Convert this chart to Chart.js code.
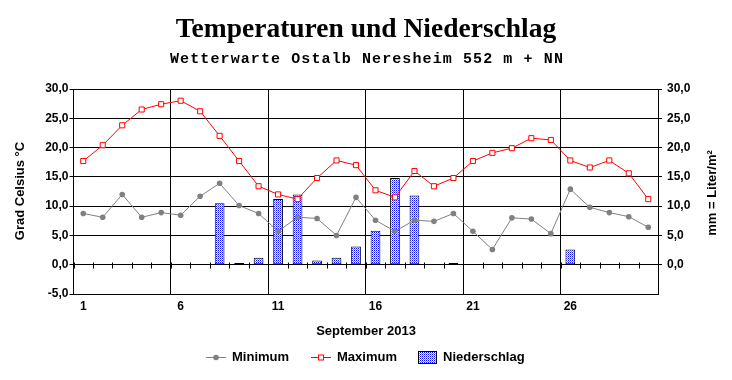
<!DOCTYPE html>
<html><head><meta charset="utf-8">
<script src="https://cdn.jsdelivr.net/npm/chart.js@4"></script>
<style>html,body{margin:0;padding:0;background:#fff;} #wrap{width:732px;height:380px;position:relative}</style>
</head><body><div id="wrap"><canvas id="c" width="732" height="380"></canvas></div>
<script>
const days = ['1','2','3','4','5','6','7','8','9','10','11','12','13','14','15','16','17','18','19','20','21','22','23','24','25','26','27','28','29','30'];
const minimum = [8.75, 8.1, 12.0, 8.1, 8.9, 8.45, 11.7, 13.9, 10.1, 8.75, 5.7, 8.1, 7.9, 5.0, 11.5, 7.6, 5.7, 7.6, 7.4, 8.75, 5.7, 2.6, 8.0, 7.8, 5.3, 12.9, 9.8, 8.9, 8.2, 6.4];
const maximum = [17.7, 20.4, 23.8, 26.5, 27.4, 28.0, 26.2, 22.0, 17.7, 13.4, 12.0, 11.2, 14.8, 17.8, 17.0, 12.7, 11.5, 16.0, 13.4, 14.8, 17.7, 19.1, 19.9, 21.6, 21.3, 17.8, 16.6, 17.8, 15.6, 11.2];
const niederschlag = [null, null, null, null, null, null, null, 10.5, 0.3, 1.2, 11.2, 12.0, 0.7, 1.2, 3.1, 5.8, 14.8, 11.8, null, 0.3, null, null, null, null, null, 2.6, null, null, null, null];
const seriesNames = ['Minimum', 'Maximum', 'Niederschlag'];
const titleText = 'Temperaturen und Niederschlag';
const subtitleText = 'Wetterwarte Ostalb Neresheim 552 m + NN';
const xTitle = 'September 2013';
const yTitle = 'Grad Celsius °C';
const y1Title = 'mm = Liter/m²';

const canvas = document.getElementById('c');
const ctx = canvas.getContext('2d');

const pc = document.createElement('canvas');
pc.width = 2; pc.height = 2;
const pctx = pc.getContext('2d');
pctx.fillStyle = '#ffffff'; pctx.fillRect(0, 0, 2, 2);
pctx.fillStyle = '#0000ff'; pctx.fillRect(0, 0, 1, 1);
pctx.fillStyle = '#8080ff'; pctx.fillRect(1, 1, 1, 1);
const pattern = ctx.createPattern(pc, 'repeat');

const fmt = v => Number(v).toFixed(1).replace('.', ',');
const tickFont = {family: 'Liberation Sans', size: 12, weight: 'bold'};

const textPlugin = {
  id: 'texts',
  afterDraw(chart) {
    const c = chart.ctx;
    c.save();
    c.fillStyle = '#000';
    c.textAlign = 'center';
    c.textBaseline = 'alphabetic';
    c.font = 'bold 27.5px "Liberation Serif"';
    c.fillText(titleText, 366, 37);
    c.font = 'bold 15px "Liberation Mono"';
    try { c.letterSpacing = '1.1px'; } catch (e) {}
    c.fillText(subtitleText, 367, 63);
    try { c.letterSpacing = '0px'; } catch (e) {}
    c.font = 'bold 13px "Liberation Sans"';
    c.textBaseline = 'middle';
    c.fillText(xTitle, 366, 331);
    c.save();
    c.translate(20, 191);
    c.rotate(-Math.PI / 2);
    c.fillText(yTitle, 0, 0);
    c.restore();
    c.save();
    c.translate(712, 193);
    c.rotate(-Math.PI / 2);
    c.fillText(y1Title, 0, 0);
    c.restore();
    c.textAlign = 'left';
    const ly = 357.5;
    c.lineWidth = 1;
    c.strokeStyle = '#808080';
    c.beginPath(); c.moveTo(206, ly); c.lineTo(226, ly); c.stroke();
    c.fillStyle = '#808080';
    c.beginPath(); c.arc(216, ly, 2.8, 0, Math.PI * 2); c.fill();
    c.fillStyle = '#000';
    c.fillText(seriesNames[0], 232, ly);
    c.strokeStyle = '#ff0000';
    c.beginPath(); c.moveTo(311, ly); c.lineTo(331, ly); c.stroke();
    c.fillStyle = '#fff';
    c.fillRect(318.5, ly - 2.5, 5, 5);
    c.strokeRect(318.5, ly - 2.5, 5, 5);
    c.fillStyle = '#000';
    c.fillText(seriesNames[1], 337, ly);
    c.fillStyle = pattern;
    c.fillRect(418.5, 351.5, 18, 12);
    c.strokeStyle = '#000';
    c.strokeRect(418.5, 351.5, 18, 12);
    c.fillStyle = '#000';
    c.fillText(seriesNames[2], 443, ly);
    c.restore();
  },
  afterDatasetsDraw(chart) {
    const xs = chart.scales.x, ys = chart.scales.y;
    const c = chart.ctx;
    const y0 = Math.round(ys.getPixelForValue(0)) + 0.5;
    const half = (xs.getPixelForValue(1) - xs.getPixelForValue(0)) / 2;
    c.save();
    c.strokeStyle = '#000';
    c.lineWidth = 1;
    for (let i = 0; i < days.length; i++) {
      const x = Math.round(xs.getPixelForValue(i) - half) + 0.5;
      c.beginPath(); c.moveTo(x, y0 - 3); c.lineTo(x, y0 + 3); c.stroke();
    }
    c.restore();
  }
};

new Chart(canvas, {
  type: 'bar',
  data: {
    labels: days,
    datasets: [
      {
        type: 'line', label: seriesNames[0], data: minimum, yAxisID: 'y', order: 2,
        borderColor: '#808080', backgroundColor: '#808080', borderWidth: 1,
        pointStyle: 'circle', pointRadius: 2.8, pointBorderWidth: 0, pointBackgroundColor: '#808080',
        tension: 0
      },
      {
        type: 'line', label: seriesNames[1], data: maximum, yAxisID: 'y', order: 1,
        borderColor: '#ff0000', backgroundColor: '#ffffff', borderWidth: 1,
        pointStyle: 'rect', pointRadius: 3.6, pointBorderWidth: 1, pointBorderColor: '#ff0000', pointBackgroundColor: '#ffffff',
        tension: 0
      },
      {
        type: 'bar', label: seriesNames[2], data: niederschlag, yAxisID: 'y1', order: 3,
        backgroundColor: pattern, borderColor: '#000', borderWidth: 1,
        barPercentage: 0.5, categoryPercentage: 1.0, borderSkipped: false
      }
    ]
  },
  options: {
    responsive: false,
    animation: false,
    devicePixelRatio: 1,
    layout: {padding: {top: 89, bottom: 0, left: 0, right: 0}},
    plugins: {legend: {display: false}, title: {display: false}, tooltip: {enabled: false}},
    scales: {
      x: {
        type: 'category', offset: true,
        grid: {offset: true, drawTicks: false, lineWidth: 1,
          color: c => (c.index === undefined || c.index % 5 === 0) ? '#000' : 'rgba(0,0,0,0)'},
        border: {display: true, color: '#000'},
        ticks: {autoSkip: false, maxRotation: 0, padding: 5, color: '#000', font: tickFont,
          callback: (v, i) => (i % 5 === 0 ? days[i] : '')},
        afterFit: s => { s.height = 86; }
      },
      y: {
        position: 'left', min: -5, max: 30,
        grid: {color: '#000', tickColor: '#000', tickLength: 4, lineWidth: 1},
        border: {display: true, color: '#000'},
        ticks: {stepSize: 5, padding: 1, color: '#000', font: tickFont, callback: v => fmt(v)},
        afterFit: s => { s.width = 73.5; }
      },
      y1: {
        position: 'right', min: -5, max: 30,
        grid: {drawOnChartArea: false, tickColor: c => (c.tick && c.tick.value < 0) ? 'rgba(0,0,0,0)' : '#000', tickLength: 4},
        border: {display: true, color: '#000'},
        ticks: {stepSize: 5, padding: 5, color: '#000', font: tickFont, callback: v => (v < 0 ? '' : fmt(v))},
        afterFit: s => { s.width = 74; }
      }
    }
  },
  plugins: [textPlugin]
});
</script>
</body></html>
